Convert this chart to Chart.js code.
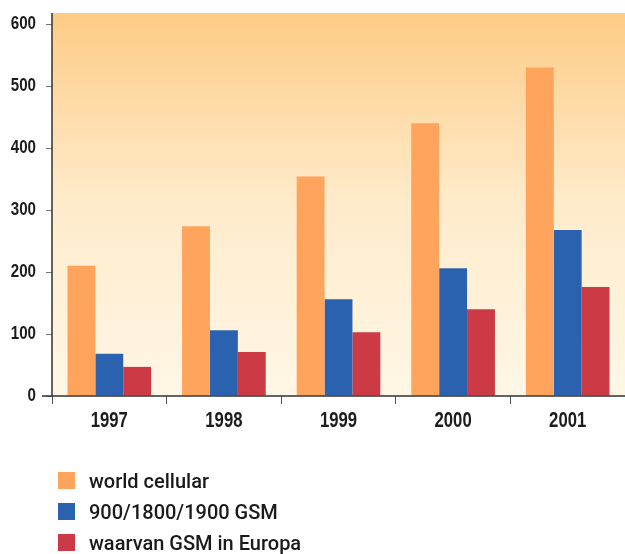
<!DOCTYPE html>
<html>
<head>
<meta charset="utf-8">
<script src="https://cdn.jsdelivr.net/npm/chart.js@4"></script>
<style>
  html, body { margin: 0; padding: 0; background: #ffffff; }
  #wrap { position: relative; width: 625px; height: 554px; overflow: hidden; }
  #chart { position: absolute; left: 0; top: 0; }
  #legend { position: absolute; left: 58px; top: 465px; margin: 0; padding: 0; list-style: none;
            font-family: Roboto, "Liberation Sans", sans-serif; font-weight: 500; font-size: 20px; color: #1a1a1a; }
  #legend li { display: flex; align-items: center; height: 31px; }
  #legend .sw { width: 17px; height: 17px; margin-right: 14px; flex: none; }
</style>
</head>
<body>
<div id="wrap">
  <canvas id="chart" width="625" height="554"></canvas>
  <ul id="legend"></ul>
</div>
<script>
// Mobile subscribers (millions) per year
const years = ['1997', '1998', '1999', '2000', '2001'];
const worldCellular = [210, 274, 354, 440, 530];
const gsm = [68, 106, 156, 206, 268];
const gsmEurope = [47, 71, 103, 140, 176];
const seriesNames = ['world cellular', '900/1800/1900 GSM', 'waarvan GSM in Europa'];
const yTicks = [0, 100, 200, 300, 400, 500, 600];

const colors = ['#FFA45C', '#2A62B0', '#CC3A45'];
const labelFont = '"Liberation Sans", Arial, sans-serif';

// Warm vertical wash behind the plot area
const plotBackground = {
  id: 'plotBackground',
  beforeDraw(chart) {
    const { ctx, chartArea: a } = chart;
    const g = ctx.createLinearGradient(0, a.top, 0, a.bottom);
    g.addColorStop(0, '#FDCC86');
    g.addColorStop(0.5, '#FFEBCB');
    g.addColorStop(1, '#FFF7E6');
    ctx.save();
    ctx.fillStyle = g;
    ctx.fillRect(a.left, a.top, a.right - a.left, a.bottom - a.top);
    ctx.restore();
  }
};

// Axis lines on the left and bottom edges of the plot
const axisLines = {
  id: 'axisLines',
  afterDatasetsDraw(chart) {
    const { ctx, chartArea: a } = chart;
    ctx.save();
    ctx.strokeStyle = '#333333';
    ctx.lineWidth = 1.5;
    ctx.beginPath();
    ctx.moveTo(a.left, a.top);
    ctx.lineTo(a.left, a.bottom);
    ctx.moveTo(a.left - 10, a.bottom);
    ctx.lineTo(a.right, a.bottom);
    ctx.stroke();
    ctx.restore();
  }
};

// Condensed bold tick labels, placed from the scales' own tick positions
function drawNarrow(ctx, text, x, y, size, squeeze, align) {
  ctx.save();
  ctx.translate(x, y);
  ctx.scale(squeeze, 1);
  ctx.font = 'bold ' + size + 'px ' + labelFont;
  ctx.fillStyle = '#1c1c1c';
  ctx.textAlign = align;
  ctx.textBaseline = 'middle';
  ctx.fillText(text, 0, 0);
  ctx.restore();
}
const narrowTickLabels = {
  id: 'narrowTickLabels',
  afterDraw(chart) {
    const { ctx } = chart;
    const ys = chart.scales.y, xs = chart.scales.x;
    ys.ticks.forEach(t => {
      drawNarrow(ctx, String(t.value), ys.right - 16, ys.getPixelForValue(t.value), 18, 0.84, 'right');
    });
    xs.ticks.forEach((t, i) => {
      drawNarrow(ctx, String(chart.data.labels[t.value]), xs.getPixelForTick(i), xs.top + 25, 22, 0.76, 'center');
    });
  }
};

const chart = new Chart(document.getElementById('chart'), {
  type: 'bar',
  data: {
    labels: years,
    datasets: [
      { label: seriesNames[0], data: worldCellular, backgroundColor: colors[0] },
      { label: seriesNames[1], data: gsm, backgroundColor: colors[1] },
      { label: seriesNames[2], data: gsmEurope, backgroundColor: colors[2] }
    ]
  },
  options: {
    responsive: false,
    animation: false,
    layout: { padding: { top: 13, bottom: 118, left: 0, right: 0 } },
    datasets: { bar: { barPercentage: 1, categoryPercentage: 0.73 } },
    plugins: { legend: { display: false }, tooltip: { enabled: false } },
    scales: {
      x: {
        border: { display: false },
        grid: { offset: true, drawOnChartArea: false, drawTicks: true, tickLength: 8, color: '#555555' },
        ticks: { display: false },
        afterFit(scale) { scale.height = 40; }
      },
      y: {
        min: 0,
        max: 618,
        border: { display: false },
        grid: { drawOnChartArea: false, drawTicks: true, tickLength: 6, color: '#777777' },
        afterBuildTicks(scale) { scale.ticks = yTicks.map(v => ({ value: v })); },
        ticks: { display: false },
        afterFit(scale) { scale.width = 52; }
      }
    }
  },
  plugins: [plotBackground, axisLines, narrowTickLabels]
});

// Legend list built from the chart's datasets
const legendEl = document.getElementById('legend');
chart.data.datasets.forEach(ds => {
  const li = document.createElement('li');
  const sw = document.createElement('span');
  sw.className = 'sw';
  sw.style.background = ds.backgroundColor;
  li.appendChild(sw);
  li.appendChild(document.createTextNode(ds.label));
  legendEl.appendChild(li);
});
</script>
</body>
</html>
